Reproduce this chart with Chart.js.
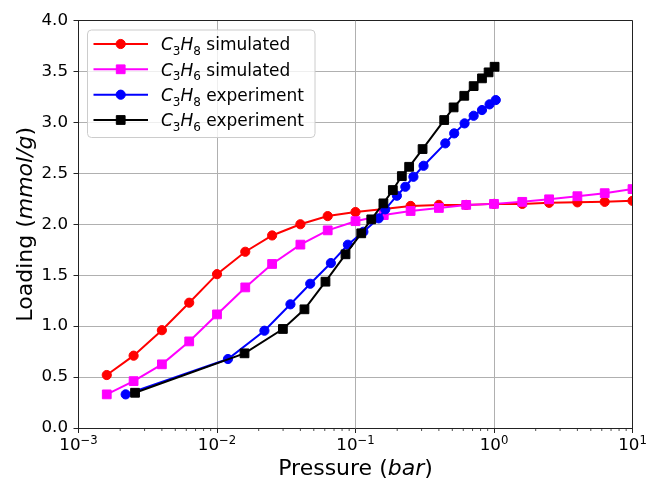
<!DOCTYPE html>
<html>
<head>
<meta charset="utf-8">
<script src="https://cdn.jsdelivr.net/npm/chart.js@4/dist/chart.umd.min.js"></script>
<style>
html,body{margin:0;padding:0;background:#fff;}
#wrap{width:650px;height:480px;}
</style>
</head>
<body>
<div id="wrap"><canvas id="c" width="650" height="480"></canvas></div>
<script>
// ---- data ----
const simPressure = [0.0016,0.0025,0.004,0.0063,0.01,0.016,0.025,0.04,0.063,0.1,0.16,0.25,0.4,0.63,1.0,1.6,2.5,4.0,6.3,10];
const c3h8Sim = [0.52,0.71,0.96,1.23,1.51,1.73,1.89,2.00,2.08,2.12,2.15,2.18,2.19,2.19,2.20,2.20,2.21,2.215,2.22,2.23];
const c3h6Sim = [0.33,0.46,0.625,0.85,1.115,1.38,1.61,1.80,1.94,2.03,2.09,2.13,2.16,2.19,2.20,2.22,2.245,2.275,2.305,2.345];

const c3h8ExpPressure = [0.00219,0.0120,0.0220,0.0339,0.0471,0.0664,0.0881,0.114,0.147,0.164,0.199,0.229,0.262,0.310,0.445,0.516,0.613,0.713,0.819,0.929,1.03];
const c3h8Exp = [0.33,0.677,0.955,1.214,1.416,1.619,1.799,1.926,2.058,2.146,2.28,2.368,2.466,2.574,2.794,2.892,2.99,3.065,3.121,3.177,3.219];

const c3h6ExpPressure = [0.00256,0.0158,0.0299,0.0428,0.0607,0.0847,0.110,0.130,0.159,0.186,0.216,0.244,0.305,0.437,0.511,0.610,0.713,0.819,0.914,1.01];
const c3h6Exp = [0.346,0.733,0.972,1.165,1.436,1.705,1.911,2.048,2.205,2.336,2.473,2.564,2.738,3.023,3.147,3.261,3.356,3.432,3.491,3.546];

const seriesLabels = ['C₃H₈ simulated','C₃H₆ simulated','C₃H₈ experiment','C₃H₆ experiment'];
const seriesColors = ['#ff0000','#ff00ff','#0000ff','#000000'];
const seriesMarkers = ['circle','rect','circle','rect'];
const xMajorTicks = [0.001,0.01,0.1,1,10];
const yTickStep = 0.5;
const xTitle = [['Pressure (',false],['bar',true],[')',false]];
const yTitle = [['Loading (',false],['mmol/g',true],[')',false]];
const legendParts = [['C','3','H','8',' simulated'],['C','3','H','6',' simulated'],['C','3','H','8',' experiment'],['C','3','H','6',' experiment']];

const zip = (xs, ys) => xs.map((x,i)=>({x:x, y:ys[i]}));

const FONT = '"DejaVu Sans", sans-serif';
const TICK_SIZE = 16.7;

function mk(i, xs, ys){
  const isRect = seriesMarkers[i]==='rect';
  return {
    label: seriesLabels[i],
    data: zip(xs, ys),
    borderColor: seriesColors[i],
    backgroundColor: seriesColors[i],
    pointBackgroundColor: seriesColors[i],
    pointBorderColor: seriesColors[i],
    borderWidth: 2,
    pointBorderWidth: 1,
    pointStyle: seriesMarkers[i],
    pointRadius: isRect ? 6.2 : 4.6,
    pointHoverRadius: isRect ? 6.2 : 4.6,
    tension: 0,
    fill: false,
    clip: 0,
    order: 4 - i
  };
}

function textRuns(ctx, runs, x, y, align){
  let w = 0;
  runs.forEach(r=>{ ctx.font = (r.italic?'italic ':'') + r.size + 'px ' + FONT; r.w = ctx.measureText(r.t).width; w += r.w; });
  let cx = align==='center' ? x - w/2 : x;
  ctx.textAlign = 'left';
  ctx.textBaseline = 'alphabetic';
  runs.forEach(r=>{ ctx.font = (r.italic?'italic ':'') + r.size + 'px ' + FONT; ctx.fillText(r.t, cx, y + (r.dy||0)); cx += r.w; });
  return w;
}

const decor = {
  id: 'decor',
  afterDraw(chart){
    const ctx = chart.ctx, ca = chart.chartArea, xs = chart.scales.x;
    ctx.save();
    // top & right spines
    ctx.strokeStyle = '#222';
    ctx.lineWidth = 1;
    ctx.beginPath();
    ctx.moveTo(ca.left, ca.top); ctx.lineTo(ca.right, ca.top); ctx.lineTo(ca.right, ca.bottom);
    ctx.stroke();
    // minor ticks on x
    ctx.lineWidth = 0.8;
    ctx.beginPath();
    for (let k=-3;k<1;k++){
      for (let m=2;m<10;m++){
        const px = xs.getPixelForValue(m*Math.pow(10,k));
        ctx.moveTo(px, ca.bottom); ctx.lineTo(px, ca.bottom+3);
      }
    }
    ctx.stroke();
    // x tick labels 10^n
    ctx.fillStyle = '#000';
    xMajorTicks.forEach(v=>{
      const e = Math.round(Math.log10(v));
      const sup = e<0 ? '−'+(-e) : String(e);
      textRuns(ctx, [{t:'10',size:TICK_SIZE},{t:sup,size:11.7,dy:-6}], xs.getPixelForValue(v), 450, 'center');
    });
    // axis titles
    textRuns(ctx, xTitle.map(p=>({t:p[0],italic:p[1],size:22})), (ca.left+ca.right)/2, 475, 'center');
    ctx.save();
    ctx.translate(31.5, (ca.top+ca.bottom)/2);
    ctx.rotate(-Math.PI/2);
    textRuns(ctx, yTitle.map(p=>({t:p[0],italic:p[1],size:22})), 0, 0, 'center');
    ctx.restore();
    // legend
    const bx=87.5, by=30, bw=227.5, bh=107.5, r=4;
    ctx.beginPath();
    ctx.moveTo(bx+r,by); ctx.lineTo(bx+bw-r,by); ctx.arcTo(bx+bw,by,bx+bw,by+r,r);
    ctx.lineTo(bx+bw,by+bh-r); ctx.arcTo(bx+bw,by+bh,bx+bw-r,by+bh,r);
    ctx.lineTo(bx+r,by+bh); ctx.arcTo(bx,by+bh,bx,by+bh-r,r);
    ctx.lineTo(bx,by+r); ctx.arcTo(bx,by,bx+r,by,r);
    ctx.closePath();
    ctx.fillStyle = 'rgba(255,255,255,0.8)';
    ctx.fill();
    ctx.strokeStyle = '#cccccc';
    ctx.lineWidth = 1;
    ctx.stroke();
    const rowY = [44, 69.3, 94.7, 120];
    chart.data.datasets.forEach((ds,i)=>{
      const y = rowY[i];
      ctx.strokeStyle = seriesColors[i];
      ctx.lineWidth = 2;
      ctx.beginPath(); ctx.moveTo(93.5,y); ctx.lineTo(148,y); ctx.stroke();
      ctx.save();
      ctx.fillStyle = seriesColors[i]; ctx.strokeStyle = seriesColors[i]; ctx.lineWidth = 1;
      Chart.helpers.drawPoint(ctx, {pointStyle: ds.pointStyle, radius: ds.pointRadius, borderWidth: 1, rotation:0}, 120.7, y);
      ctx.restore();
      const p = legendParts[i];
      ctx.fillStyle = '#000';
      textRuns(ctx, [
        {t:p[0],italic:true,size:17},
        {t:p[1],size:12,dy:4.5},
        {t:p[2],italic:true,size:17},
        {t:p[3],size:12,dy:4.5},
        {t:p[4],size:17}
      ], 161, y+6.3, 'left');
    });
    ctx.restore();
  }
};

new Chart(document.getElementById('c'), {
  type: 'line',
  data: {
    datasets: [
      mk(0, simPressure, c3h8Sim),
      mk(1, simPressure, c3h6Sim),
      mk(2, c3h8ExpPressure, c3h8Exp),
      mk(3, c3h6ExpPressure, c3h6Exp)
    ]
  },
  options: {
    responsive: false,
    devicePixelRatio: 1,
    animation: false,
    events: [],
    layout: { padding: { left: 0, right: 17.5, top: 20.5, bottom: 0 } },
    plugins: { legend: { display: false }, tooltip: { enabled: false }, title: { display: false } },
    scales: {
      x: {
        type: 'logarithmic',
        min: 0.001, max: 10,
        afterBuildTicks: s => { s.ticks = xMajorTicks.map(v=>({value:v, major:true})); },
        afterFit: s => { s.height = 52; },
        ticks: { display: false },
        grid: { color: '#b0b0b0', lineWidth: 1, drawTicks: true, tickLength: 5, tickColor: '#222', tickWidth: 1 },
        border: { display: true, color: '#222', width: 1 }
      },
      y: {
        type: 'linear',
        min: 0, max: 4,
        afterFit: s => { s.width = 78.5; },
        ticks: {
          stepSize: yTickStep,
          color: '#000',
          padding: 5.5,
          font: { family: FONT, size: TICK_SIZE },
          callback: v => Number(v).toFixed(1)
        },
        grid: { color: '#b0b0b0', lineWidth: 1, drawTicks: true, tickLength: 5, tickColor: '#222', tickWidth: 1 },
        border: { display: true, color: '#222', width: 1 }
      }
    }
  },
  plugins: [decor]
});
</script>
</body>
</html>
